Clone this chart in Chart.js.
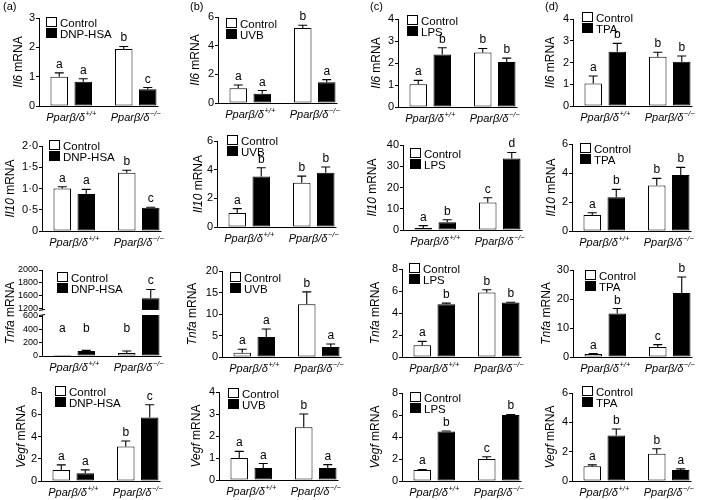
<!DOCTYPE html>
<html><head><meta charset="utf-8">
<script src="https://cdn.jsdelivr.net/npm/chart.js@4"></script>
<style>
html,body{margin:0;padding:0;background:#fff;}
body{width:709px;height:500px;overflow:hidden;position:relative;}
canvas{position:absolute;}
</style>
</head><body>
<script>
// ---------- DATA ----------
const groupMain = ['Pparβ/δ', 'Pparβ/δ'];
const groupSup = ['+/+', '−/−'];
const treatments = ['DNP-HSA', 'UVB', 'LPS', 'TPA'];
const genes = ['Il6', 'Il10', 'Tnfa', 'Vegf'];
const panelTags = ['(a)', '(b)', '(c)', '(d)'];

// Il6 (row 1)
const il6A_ctrl = [1.00, 1.94], il6A_ctrlErr = [0.13, 0.09], il6A_trt = [0.83, 0.57], il6A_trtErr = [0.10, 0.06], il6A_sig = ['a','a','b','c'];
const il6B_ctrl = [1.03, 5.24], il6B_ctrlErr = [0.23, 0.18], il6B_trt = [0.64, 1.45], il6B_trtErr = [0.23, 0.18], il6B_sig = ['a','a','b','a'];
const il6C_ctrl = [1.03, 2.48], il6C_ctrlErr = [0.18, 0.18], il6C_trt = [2.39, 2.04], il6C_trtErr = [0.30, 0.18], il6C_sig = ['a','b','b','b'];
const il6D_ctrl = [1.03, 2.27], il6D_ctrlErr = [0.35, 0.20], il6D_trt = [2.50, 2.04], il6D_trtErr = [0.38, 0.26], il6D_sig = ['a','b','b','b'];
// Il10 (row 2)
const il10A_ctrl = [1.00, 1.37], il10A_ctrlErr = [0.04, 0.06], il10A_trt = [0.87, 0.55], il10A_trtErr = [0.11, 0.01], il10A_sig = ['a','a','b','c'];
const il10B_ctrl = [0.98, 3.09], il10B_ctrlErr = [0.30, 0.46], il10B_trt = [3.53, 3.79], il10B_trtErr = [0.60, 0.40], il10B_sig = ['a','b','b','b'];
const il10C_ctrl = [0.94, 12.9], il10C_ctrlErr = [1.1, 2.3], il10C_trt = [3.6, 33.7], il10C_trtErr = [1.2, 2.8], il10C_sig = ['a','b','c','d'];
const il10D_ctrl = [1.10, 3.13], il10D_ctrlErr = [0.16, 0.50], il10D_trt = [2.32, 3.86], il10D_trtErr = [0.55, 0.53], il10D_sig = ['a','b','b','b'];
// Tnfa (row 3)
const tnfaA_ctrl = [1, 45], tnfaA_ctrlErr = [0, 30], tnfaA_trt = [75, 1530], tnfaA_trtErr = [10, 170], tnfaA_sig = ['a','b','b','c'];
const tnfaB_ctrl = [1.0, 12.25], tnfaB_ctrlErr = [0.8, 2.9], tnfaB_trt = [4.65, 2.33], tnfaB_trtErr = [1.85, 0.7], tnfaB_sig = ['a','a','b','a'];
const tnfaC_ctrl = [1.06, 5.87], tnfaC_ctrlErr = [0.36, 0.24], tnfaC_trt = [4.8, 4.95], tnfaC_trtErr = [0.1, 0.03], tnfaC_sig = ['a','b','b','b'];
const tnfaD_ctrl = [1.0, 3.46], tnfaD_ctrlErr = [0.2, 0.8], tnfaD_trt = [15.0, 22.1], tnfaD_trtErr = [1.7, 5.5], tnfaD_sig = ['a','b','c','b'];
// Vegf (row 4)
const vegfA_ctrl = [1.0, 3.1], vegfA_ctrlErr = [0.45, 0.5], vegfA_trt = [0.7, 5.7], vegfA_trtErr = [0.3, 1.15], vegfA_sig = ['a','a','b','c'];
const vegfB_ctrl = [1.0, 2.4], vegfB_ctrlErr = [0.3, 0.6], vegfB_trt = [0.55, 0.55], vegfB_trtErr = [0.2, 0.15], vegfB_sig = ['a','a','b','a'];
const vegfC_ctrl = [1.0, 2.0], vegfC_ctrlErr = [0.05, 0.2], vegfC_trt = [4.5, 6.0], vegfC_trtErr = [0.05, 0.05], vegfC_sig = ['a','b','c','b'];
const vegfD_ctrl = [1.0, 1.85], vegfD_ctrlErr = [0.1, 0.35], vegfD_trt = [3.1, 0.75], vegfD_trtErr = [0.45, 0.08], vegfD_sig = ['a','b','b','a'];

// Tick values
const il6Ticks = [[0,1,2,3],[0,2,4,6],[0,1,2,3,4],[0,1,2,3,4]];
const il10Ticks = [[0,0.5,1,1.5,2],[0,2,4,6],[0,10,20,30,40],[0,2,4,6]];
const tnfaTicks = [[0,200,400,600,1200,1600,1800,2000],[0,5,10,15,20],[0,2,4,6,8],[0,10,20,30]];
const vegfTicks = [[0,2,4,6,8],[0,1,2,3,4],[0,2,4,6,8],[0,2,4,6]];
// broken Tnfa (a) axis: value -> fraction of axis height
const tnfaBreakKnots = [[0,0],[600,0.465],[1200,0.547],[1600,0.698],[2000,1]];

// ---------- LAYOUT (positions only) ----------
const colX = [0, 175, 355, 530];
const colW = [180, 180, 180, 179];
const rowY = [0, 125, 250, 375];
const PH = 125, PLOTW = 129;
const geo = [
  [{ax:39,top:18,bot:106,tx:18.5,lx:46,ly:17},{ax:43,top:17,bot:103,tx:21,lx:51,ly:18},{ax:43,top:19,bot:107,tx:21.5,lx:52,ly:15},{ax:43,top:19,bot:106,tx:21,lx:52,ly:12}],
  [{ax:42,top:21,bot:106,tx:11,lx:49,ly:15},{ax:42,top:16,bot:102,tx:23.5,lx:52,ly:10},{ax:48,top:20,bot:105,tx:17.5,lx:55,ly:23},{ax:42,top:19,bot:106,tx:22,lx:50,ly:18}],
  [{ax:42,top:20,bot:106,tx:11,lx:57,ly:22},{ax:47,top:21,bot:107,tx:17.5,lx:55,ly:22},{ax:47,top:19,bot:107,tx:21,lx:54,ly:13},{ax:43,top:20,bot:107,tx:17,lx:55,ly:20}],
  [{ax:41,top:17,bot:106,tx:22,lx:55,ly:11},{ax:44,top:17,bot:105,tx:22,lx:53,ly:13},{ax:47,top:18,bot:106,tx:21,lx:55,ly:17},{ax:42,top:18,bot:106,tx:21,lx:52,ly:11}]
];
const tagX = [3, 15, 15, 15];

const FONT = "'Liberation Sans', Arial, Helvetica, sans-serif";
Chart.defaults.font.family = FONT;
Chart.defaults.color = '#000';

// ---------- broken linear scale ----------
function pieceFrac(v, k) {
  if (v <= k[0][0]) return k[0][1];
  for (let i = 1; i < k.length; i++) {
    if (v <= k[i][0]) { const a = k[i-1], b = k[i]; return a[1] + (v - a[0]) / (b[0] - a[0]) * (b[1] - a[1]); }
  }
  const a = k[k.length-2], b = k[k.length-1];
  return a[1] + (v - a[0]) / (b[0] - a[0]) * (b[1] - a[1]);
}
function pieceInv(f, k) {
  for (let i = 1; i < k.length; i++) {
    if (f <= k[i][1]) { const a = k[i-1], b = k[i]; return a[0] + (f - a[1]) / (b[1] - a[1]) * (b[0] - a[0]); }
  }
  return k[k.length-1][0];
}
class BrokenLinearScale extends Chart.LinearScale {
  getPixelForValue(v) { return this.getPixelForDecimal(pieceFrac(v, tnfaBreakKnots)); }
  getValueForPixel(p) { return pieceInv(this.getDecimalForPixel(p), tnfaBreakKnots); }
}
BrokenLinearScale.id = 'brokenLinear';
BrokenLinearScale.defaults = {};
Chart.register(BrokenLinearScale);

// ---------- panels ----------
const rowsData = [
  [[il6A_ctrl,il6A_ctrlErr,il6A_trt,il6A_trtErr,il6A_sig],[il6B_ctrl,il6B_ctrlErr,il6B_trt,il6B_trtErr,il6B_sig],[il6C_ctrl,il6C_ctrlErr,il6C_trt,il6C_trtErr,il6C_sig],[il6D_ctrl,il6D_ctrlErr,il6D_trt,il6D_trtErr,il6D_sig]],
  [[il10A_ctrl,il10A_ctrlErr,il10A_trt,il10A_trtErr,il10A_sig],[il10B_ctrl,il10B_ctrlErr,il10B_trt,il10B_trtErr,il10B_sig],[il10C_ctrl,il10C_ctrlErr,il10C_trt,il10C_trtErr,il10C_sig],[il10D_ctrl,il10D_ctrlErr,il10D_trt,il10D_trtErr,il10D_sig]],
  [[tnfaA_ctrl,tnfaA_ctrlErr,tnfaA_trt,tnfaA_trtErr,tnfaA_sig],[tnfaB_ctrl,tnfaB_ctrlErr,tnfaB_trt,tnfaB_trtErr,tnfaB_sig],[tnfaC_ctrl,tnfaC_ctrlErr,tnfaC_trt,tnfaC_trtErr,tnfaC_sig],[tnfaD_ctrl,tnfaD_ctrlErr,tnfaD_trt,tnfaD_trtErr,tnfaD_sig]],
  [[vegfA_ctrl,vegfA_ctrlErr,vegfA_trt,vegfA_trtErr,vegfA_sig],[vegfB_ctrl,vegfB_ctrlErr,vegfB_trt,vegfB_trtErr,vegfB_sig],[vegfC_ctrl,vegfC_ctrlErr,vegfC_trt,vegfC_trtErr,vegfC_sig],[vegfD_ctrl,vegfD_ctrlErr,vegfD_trt,vegfD_trtErr,vegfD_sig]]
];
const rowsTicks = [il6Ticks, il10Ticks, tnfaTicks, vegfTicks];

function makeDecor(p) {
  return {
    id: 'decor',
    afterDatasetsDraw(chart) {
      const ctx = chart.ctx, ys = chart.scales.y, xs = chart.scales.x, ca = chart.chartArea;
      ctx.save();
      ctx.strokeStyle = '#000'; ctx.fillStyle = '#000'; ctx.lineWidth = 1;
      if (p.broken) {
        const y1 = ys.getPixelForValue(1200), y0 = ys.getPixelForValue(600);
        ctx.fillStyle = '#fff';
        ctx.fillRect(ca.left - 1.5, y1 + 1, ca.right - ca.left + 3, y0 - y1 - 2);
        ctx.fillStyle = '#000';
        ctx.beginPath();
        ctx.moveTo(ca.left - 3, y1 + 1.5); ctx.lineTo(ca.left + 3, y1 + 0.5);
        ctx.moveTo(ca.left - 3, y0 - 0.5); ctx.lineTo(ca.left + 3, y0 - 1.5);
        ctx.stroke();
      }
      // x axis line
      let lastRight = ca.left;
      chart.data.datasets.forEach((ds, di) => {
        chart.getDatasetMeta(di).data.forEach(el => { lastRight = Math.max(lastRight, el.x + el.width / 2); });
      });
      const yb = Math.round(ca.bottom) + 0.5;
      ctx.beginPath(); ctx.moveTo(Math.round(ca.left), yb); ctx.lineTo(lastRight + 2, yb); ctx.stroke();
      // error bars + letters
      ctx.lineWidth = 1.1;
      ctx.font = '12px ' + FONT; ctx.textAlign = 'center'; ctx.textBaseline = 'alphabetic';
      chart.data.datasets.forEach((ds, di) => {
        chart.getDatasetMeta(di).data.forEach((el, i) => {
          const v = ds.data[i], e = ds.err[i];
          const yt = ys.getPixelForValue(v + e);
          if (e > 0) {
            ctx.beginPath();
            ctx.moveTo(el.x, el.y); ctx.lineTo(el.x, yt);
            ctx.moveTo(el.x - 4.5, yt); ctx.lineTo(el.x + 4.5, yt);
            ctx.stroke();
          }
          let base = Math.min(yt, el.y) - 5;
          if (p.letterFloor) base = Math.min(base, ca.bottom - p.letterFloor);
          ctx.fillText(ds.sig[i], el.x, base);
        });
      });
      // x category labels
      ctx.textAlign = 'left';
      for (let i = 0; i < groupMain.length; i++) {
        const cx = xs.getPixelForValue(i);
        ctx.font = 'italic 11px ' + FONT;
        const w1 = ctx.measureText(groupMain[i]).width;
        ctx.font = 'italic 7.5px ' + FONT;
        const w2 = ctx.measureText(groupSup[i]).width;
        const sx = cx - (w1 + w2 + 0.5) / 2;
        ctx.font = 'italic 11px ' + FONT;
        ctx.fillText(groupMain[i], sx, ca.bottom + 15);
        ctx.font = 'italic 7.5px ' + FONT;
        ctx.fillText(groupSup[i], sx + w1 + 0.5, ca.bottom + 10);
      }
      // y title
      ctx.save();
      ctx.translate(p.tx, (ca.top + ca.bottom) / 2);
      ctx.rotate(-Math.PI / 2);
      ctx.textBaseline = 'middle';
      ctx.font = 'italic 12px ' + FONT;
      const gw = ctx.measureText(p.gene).width;
      ctx.font = '12px ' + FONT;
      const mw = ctx.measureText(' mRNA').width;
      ctx.font = 'italic 12px ' + FONT;
      ctx.fillText(p.gene, -(gw + mw) / 2, 0);
      ctx.font = '12px ' + FONT;
      ctx.fillText(' mRNA', -(gw + mw) / 2 + gw, 0);
      ctx.restore();
      // legend
      ctx.lineWidth = 1;
      const names = ['Control', p.treatment];
      const fills = ['#fff', '#000'];
      ctx.font = '11.5px ' + FONT; ctx.textBaseline = 'alphabetic';
      for (let k = 0; k < 2; k++) {
        const bx = p.lx, by = p.ly + k * 11;
        ctx.fillStyle = fills[k]; ctx.fillRect(bx, by, 11, 10);
        ctx.strokeStyle = '#000'; ctx.strokeRect(bx + 0.5, by + 0.5, 10, 9);
        ctx.fillStyle = '#000';
        ctx.fillText(names[k], bx + 14, by + 9.5);
      }
      // panel tag
      if (p.tag) { ctx.font = '11px ' + FONT; ctx.fillText(p.tag, p.tagX, 10); }
      ctx.restore();
    }
  };
}

for (let r = 0; r < 4; r++) {
  for (let c = 0; c < 4; c++) {
    const g = geo[r][c];
    const [ctrl, ctrlErr, trt, trtErr, sig] = rowsData[r][c];
    const ticks = rowsTicks[r][c];
    const broken = (r === 2 && c === 0);
    const dotFmt = (r === 1 && c === 0);
    const cv = document.createElement('canvas');
    cv.width = colW[c]; cv.height = PH;
    cv.style.left = colX[c] + 'px'; cv.style.top = rowY[r] + 'px';
    document.body.appendChild(cv);
    const p = { gene: genes[r], treatment: treatments[c], tx: g.tx, lx: g.lx, ly: g.ly,
      broken, letterFloor: broken ? 24 : 0, tag: r === 0 ? panelTags[c] : null, tagX: tagX[c] };
    new Chart(cv, {
      type: 'bar',
      data: {
        labels: groupMain.map((m, i) => m + groupSup[i]),
        datasets: [
          { label: 'Control', data: ctrl, err: ctrlErr, sig: [sig[0], sig[2]], backgroundColor: '#fff', borderColor: '#000', borderWidth: 1, borderSkipped: false },
          { label: treatments[c], data: trt, err: trtErr, sig: [sig[1], sig[3]], backgroundColor: '#000', borderColor: '#000', borderWidth: 1, borderSkipped: false }
        ]
      },
      options: {
        responsive: false, animation: false, events: [],
        layout: { padding: { left: 0, top: g.top, right: colW[c] - g.ax - PLOTW, bottom: PH - g.bot } },
        datasets: { bar: { categoryPercentage: 0.744, barPercentage: 0.73 } },
        plugins: { legend: { display: false }, tooltip: { enabled: false } },
        scales: {
          x: { type: 'category', offset: true, ticks: { display: false }, grid: { display: false }, border: { display: false },
               afterFit: s => { s.height = 0; } },
          y: { type: broken ? 'brokenLinear' : 'linear', min: 0, max: ticks[ticks.length - 1],
               afterBuildTicks: s => { s.ticks = ticks.map(v => ({ value: v })); },
               ticks: { autoSkip: false, padding: 1, color: '#000', font: { size: broken ? 9 : 11 },
                        callback: v => dotFmt ? (v === 0 ? '0' : v.toFixed(1).replace('.', '·')) : String(v) },
               grid: { display: true, drawOnChartArea: false, drawTicks: true, tickLength: 3, color: '#000', lineWidth: 1 },
               border: { display: true, color: '#000', width: 1 },
               afterFit: s => { s.width = g.ax; } }
        }
      },
      plugins: [makeDecor(p)]
    });
  }
}
</script>
</body></html>
